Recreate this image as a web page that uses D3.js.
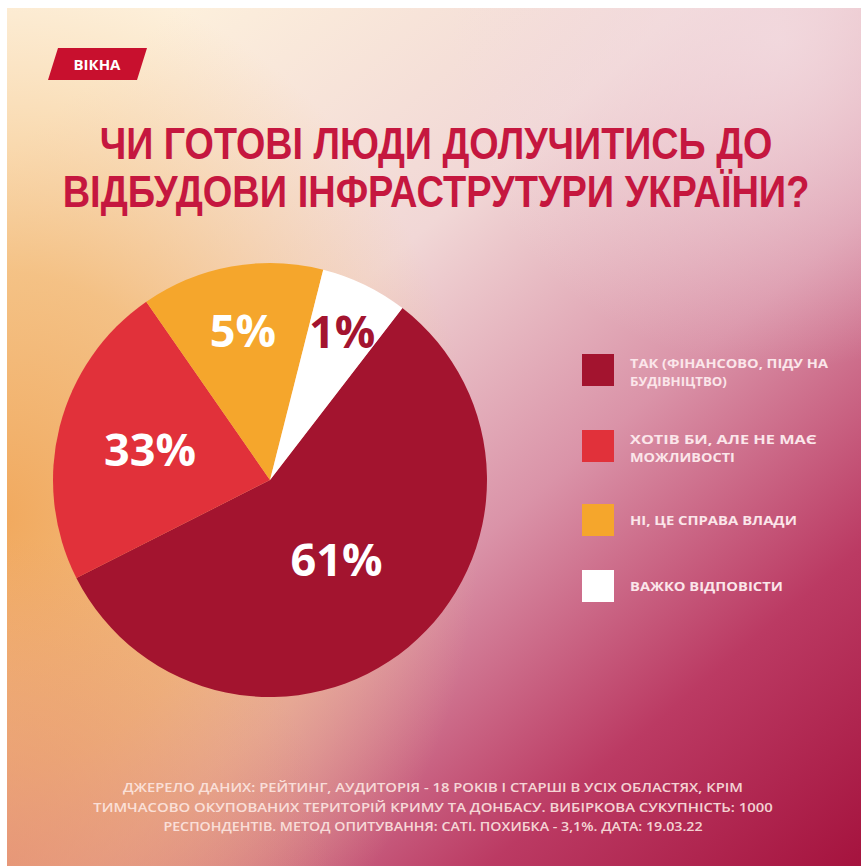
<!DOCTYPE html>
<html><head><meta charset="utf-8">
<script src="https://cdn.jsdelivr.net/npm/d3@7"></script>
<style>html,body{margin:0;padding:0;background:#fff;}svg{display:block;}</style>
</head><body>
<script>
// ---- data ----
const categories = ["ТАК (ФІНАНСОВО, ПІДУ НА БУДІВНИЦТВО)", "ХОТІВ БИ, АЛЕ НЕ МАЄ МОЖЛИВОСТІ", "НІ, ЦЕ СПРАВА ВЛАДИ", "ВАЖКО ВІДПОВІСТИ"];
const legendLines = [["ТАК (ФІНАНСОВО, ПІДУ НА", "БУДІВНІЦТВО)"], ["ХОТІВ БИ, АЛЕ НЕ МАЄ", "МОЖЛИВОСТІ"], ["НІ, ЦЕ СПРАВА ВЛАДИ"], ["ВАЖКО ВІДПОВІСТИ"]];
const sliceShares = [57.1, 22.8, 13.6, 6.5];   // slice sizes as drawn in the picture
const valueLabels = ["61%", "33%", "5%", "1%"]; // printed values
const titleLines = ["ЧИ ГОТОВІ ЛЮДИ ДОЛУЧИТИСЬ ДО", "ВІДБУДОВИ ІНФРАСТРУТУРИ УКРАЇНИ?"];
const footerLines = [
  "ДЖЕРЕЛО ДАНИХ: РЕЙТИНГ, АУДИТОРІЯ - 18 РОКІВ І СТАРШІ В УСІХ ОБЛАСТЯХ, КРІМ",
  "ТИМЧАСОВО ОКУПОВАНИХ ТЕРИТОРІЙ КРИМУ ТА ДОНБАСУ. ВИБІРКОВА СУКУПНІСТЬ: 1000",
  "РЕСПОНДЕНТІВ. МЕТОД ОПИТУВАННЯ: CATI. ПОХИБКА - 3,1%. ДАТА: 19.03.22"
];
const badgeText = "ВІКНА";

// ---- styles ----
const W = 861, H = 866;
const colors = ["#a3142f", "#e1313a", "#f5a62c", "#ffffff"];
const labelColors = ["#ffffff", "#ffffff", "#ffffff", "#a3142f"];
const labelRadiusK = [0.48, 0.57, 0.70, 0.76];
const titleWidths = [673, 747];
const footerWidths = [620, 680, 540];
const legendWidths = [[198, 97], [187, 105], [167], [153]];
const font = "'Open Sans', 'DejaVu Sans', sans-serif";
const titleFont = "'Liberation Sans', Arial, sans-serif";

const svg = d3.select("body").append("svg").attr("width", W).attr("height", H);
const defs = svg.append("defs");

// fit a text element horizontally to a target width with a scale transform
function fitX(sel, cx, y, target) {
  sel.each(function () {
    const w = this.getComputedTextLength();
    const s = Math.min(1.25, target / w);
    d3.select(this).attr("x", 0).attr("y", 0)
      .attr("transform", `translate(${cx},${y}) scale(${s},1)`);
  });
}

// background gradients
const g1 = defs.append("linearGradient").attr("id", "bg1")
  .attr("gradientUnits", "userSpaceOnUse").attr("x1", 150).attr("y1", 30).attr("x2", 860).attr("y2", 866);
[[0, "#fdf0dc"], [0.3, "#f1d7d6"], [0.55, "#da93a8"], [0.78, "#bb3a63"], [1, "#a5133e"]]
  .forEach(([o, c]) => g1.append("stop").attr("offset", o).attr("stop-color", c));

const g2 = defs.append("radialGradient").attr("id", "bg2")
  .attr("gradientUnits", "userSpaceOnUse").attr("cx", 0).attr("cy", 520).attr("r", 480)
  .attr("gradientTransform", "translate(0,520) scale(1,1.15) translate(0,-520)");
[[0, "#f1a95e", 1], [0.45, "#f3b870", 0.8], [1, "#f6c98a", 0]]
  .forEach(([o, c, a]) => g2.append("stop").attr("offset", o).attr("stop-color", c).attr("stop-opacity", a));

const g4 = defs.append("radialGradient").attr("id", "bg4")
  .attr("gradientUnits", "userSpaceOnUse").attr("cx", 0).attr("cy", 866).attr("r", 330);
[[0, "#e58c6c", 0.7], [1, "#e58c6c", 0]]
  .forEach(([o, c, a]) => g4.append("stop").attr("offset", o).attr("stop-color", c).attr("stop-opacity", a));

const g3 = defs.append("radialGradient").attr("id", "bg3")
  .attr("gradientUnits", "userSpaceOnUse").attr("cx", 780).attr("cy", 40).attr("r", 330);
[[0, "#f3dde2", 0.8], [1, "#f3dde2", 0]]
  .forEach(([o, c, a]) => g3.append("stop").attr("offset", o).attr("stop-color", c).attr("stop-opacity", a));

const bgX = 7, bgY = 8;
["bg1", "bg2", "bg4", "bg3"].forEach(id =>
  svg.append("rect").attr("x", bgX).attr("y", bgY).attr("width", W - bgX).attr("height", H - bgY).attr("fill", `url(#${id})`));

// badge
svg.append("path").attr("d", "M58,48 L147,48 L137,80 L48,80 Z").attr("fill", "#c8102e");
svg.append("text").attr("x", 97).attr("y", 70).attr("text-anchor", "middle")
  .attr("font-family", font).attr("font-weight", 700).attr("font-size", 15).attr("fill", "#fff")
  .text(badgeText);

// title
svg.append("g").selectAll("text").data(titleLines).join("text")
  .attr("text-anchor", "middle")
  .attr("font-family", titleFont).attr("font-weight", 700).attr("font-size", 44)
  .attr("fill", "#c5173f")
  .text(d => d)
  .each(function (d, i) { fitX(d3.select(this), 436, 159 + i * 48, titleWidths[i]); });

// pie
const cx = 270, cy = 480, R = 217;
const startA = 37.6 * Math.PI / 180;
const pie = d3.pie().sort(null).value(d => d).startAngle(startA).endAngle(startA + 2 * Math.PI);
const arcs = pie(sliceShares);
const arc = d3.arc().innerRadius(0).outerRadius(R);
const gp = svg.append("g").attr("transform", `translate(${cx},${cy})`);
gp.selectAll("path").data(arcs).join("path")
  .attr("d", arc).attr("fill", (d, i) => colors[i]);
gp.selectAll("text").data(arcs).join("text")
  .attr("transform", (d, i) => {
    const r = R * labelRadiusK[i];
    const c = d3.arc().innerRadius(r).outerRadius(r).centroid(d);
    return `translate(${c[0]},${c[1]})`;
  })
  .attr("text-anchor", "middle").attr("dy", "0.36em")
  .attr("font-family", font).attr("font-weight", 700).attr("font-size", 45)
  .attr("fill", (d, i) => labelColors[i])
  .text((d, i) => valueLabels[i]);

// legend
const legendY = [354, 430, 504, 570];
const lg = svg.append("g");
categories.forEach((c, i) => {
  lg.append("rect").attr("x", 582).attr("y", legendY[i]).attr("width", 32).attr("height", 32)
    .attr("fill", colors[i]);
  legendLines[i].forEach((line, j) => {
    const t = lg.append("text")
      .attr("font-family", font).attr("font-weight", 700).attr("font-size", 12)
      .attr("fill", "#fbe6ea")
      .text(line);
    const y = legendY[i] + 14 + j * 18 + (legendLines[i].length === 1 ? 7 : 0);
    const w = t.node().getComputedTextLength();
    t.attr("transform", `translate(630,${y}) scale(${legendWidths[i][j] / w},1)`);
  });
});

// footer
svg.append("g").selectAll("text").data(footerLines).join("text")
  .attr("text-anchor", "middle")
  .attr("font-family", font).attr("font-weight", 600).attr("font-size", 12.5)
  .attr("fill", "#fde9e4").attr("fill-opacity", 0.9)
  .text(d => d)
  .each(function (d, i) { fitX(d3.select(this), 433, 792 + i * 19.5, footerWidths[i]); });
</script>
</body></html>
